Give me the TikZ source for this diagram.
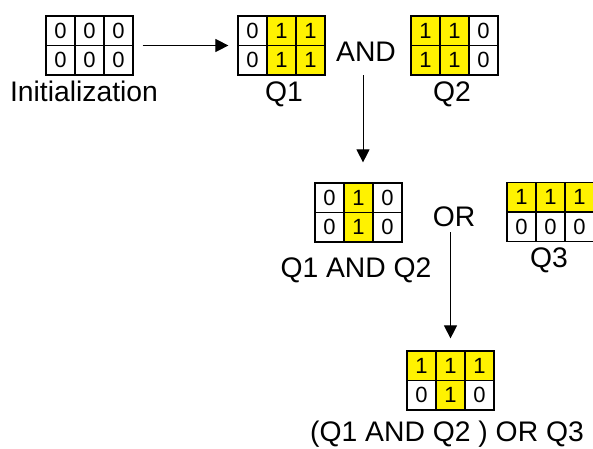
\documentclass[tikz,border=0pt]{standalone}
\usepackage{fontspec}
\setmainfont{Liberation Sans}
\usetikzlibrary{arrows.meta}
\tikzset{
  cellbox/.style={draw=black, line width=1.2pt, minimum width=29pt, minimum height=29.5pt, inner sep=0pt, font=\fontsize{22}{26}\selectfont, fill=white},
  gridframe/.style={draw=black, line width=1.2pt, minimum width=87pt, minimum height=59pt, inner sep=0pt},
  lbl/.style={anchor=base, inner sep=0pt, font=\fontsize{28.3}{34}\selectfont},
  arr/.style={-{Triangle[length=13pt,width=13pt]}, line width=1pt, black}
}
\newcommand\bitcell[3]{\ifnum#3=1 \node[cellbox,fill=yellow] at (#1,#2) {1};\else \node[cellbox] at (#1,#2) {0};\fi}
\newcommand\bitgrid[9]{%
  \node[gridframe] (#1) at (#2+43.5,#3+29.5) {};
  \bitcell{#2+14.5}{#3+14.75}{#4}
  \bitcell{#2+43.5}{#3+14.75}{#5}
  \bitcell{#2+72.5}{#3+14.75}{#6}
  \bitcell{#2+14.5}{#3+44.25}{#7}
  \bitcell{#2+43.5}{#3+44.25}{#8}
  \bitcell{#2+72.5}{#3+44.25}{#9}
  \node[gridframe] at (#1) {};
}
\begin{document}
\begin{tikzpicture}[x=1pt,y=-1pt]
\path[use as bounding box, clip] (0,0) rectangle (593,448);
\fill[white] (0,0) rectangle (593,448);

\bitgrid{init}{46}{16}{0}{0}{0}{0}{0}{0}
\bitgrid{qone}{238}{16}{0}{1}{1}{0}{1}{1}
\bitgrid{qtwo}{411}{16}{1}{1}{0}{1}{1}{0}
\bitgrid{qand}{315}{183}{0}{1}{0}{0}{1}{0}
\bitgrid{qthree}{507}{182.5}{1}{1}{1}{0}{0}{0}
\bitgrid{res}{407}{351}{1}{1}{1}{0}{1}{0}

\node[lbl] (linit) at (84,101) {Initialization};
\node[lbl] (lqone) at (284,101) {Q1};
\node[lbl] (lqtwo) at (452,101) {Q2};
\node[lbl] (andop) at (366,61) {AND};
\node[lbl] (lqand) at (356,277) {Q1 AND Q2};
\node[lbl] (orop) at (454,226) {OR};
\node[lbl] (lqthree) at (549,267) {Q3};
\node[lbl] (lres) at (447,441) {(Q1 AND Q2 ) OR Q3};

\draw[arr, shorten <=9pt, shorten >=9pt] (init.east) -- (qone.west);
\draw[arr, shorten <=14pt, shorten >=20pt] ([xshift=-3pt]andop.south) -- ([xshift=-3pt]andop.south |- qand.north);
\draw[arr, shorten <=6pt, shorten >=12pt] (orop.south -| res.north) -- (res.north);
\end{tikzpicture}
\end{document}
